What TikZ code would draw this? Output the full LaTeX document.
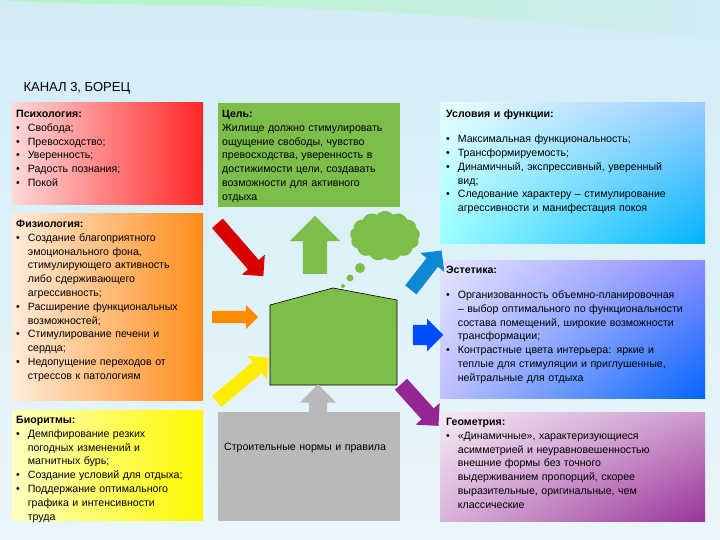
\documentclass[tikz,border=0pt]{standalone}
\usepackage{fontspec}
\setmainfont{Liberation Sans}
\usetikzlibrary{shapes.arrows,shapes.symbols,shapes.geometric,shadings}
\newcommand{\itm}{\par\noindent\hangindent=1.1em\hangafter=1\makebox[1.1em][l]{\textbullet}}
\definecolor{bgA}{HTML}{EAF6FB}
\definecolor{bgB}{HTML}{D2ECF6}
\definecolor{hgreen}{HTML}{7DBE4B}
\begin{document}
\begin{tikzpicture}[x=1pt,y=-1pt,
  txt/.style={anchor=north west,inner sep=0pt,align=left,font=\fontsize{10.6}{13.8}\selectfont},
  arr/.style={single arrow,draw=none,single arrow head extend=8pt,inner sep=7pt,minimum height=#1}]
\useasboundingbox (0,0) rectangle (720,540);
\shade[top color=bgB,bottom color=bgA] (0,0) rectangle (720,540);
\shade[left color=green!40!white,right color=bgB,opacity=0.6] (0,0) .. controls (150,10) and (300,-5) .. (720,40) -- (720,0) -- cycle;
\node[anchor=west,font=\fontsize{13}{15}\selectfont] (title) at (20,88) {КАНАЛ 3, БОРЕЦ};
% boxes
\shade[left color=red!15,right color=red!85] (12,103) rectangle (203,205);
\shade[left color=orange!15,right color=orange!90] (12,214) rectangle (203,400);
\shade[left color=yellow!25,right color=yellow!95!orange] (12,410) rectangle (203,520);
\fill[hgreen] (218,103) rectangle (400,207);
\fill[gray!55] (218,412) rectangle (400,521);
\shade[upper left=cyan!8,upper right=cyan!50!blue!40,lower left=cyan!40,lower right=cyan!70!blue] (440,103) rectangle (705,243);
\shade[upper left=blue!10,upper right=blue!45,lower left=blue!25,lower right=blue!60!cyan] (440,260) rectangle (705,398);
\shade[upper left=violet!8,upper right=violet!40,lower left=violet!30,lower right=violet!80] (440,412) rectangle (705,521);
% texts
\node[txt,text width=180pt] (psy) at (16,110) {\textbf{Психология:}\itm Свобода;\itm Превосходство;\itm Уверенность;\itm Радость познания;\itm Покой\par};
\node[txt,text width=172pt] (goal) at (222,110) {\textbf{Цель:}\par Жилище должно стимулировать ощущение свободы, чувство превосходства, уверенность в достижимости цели, создавать возможности для активного отдыха\par};
\node[txt,text width=240pt] (cond) at (446,110) {\textbf{Условия и функции:}\par\vspace{11pt}\itm Максимальная функциональность;\itm Трансформируемость;\itm Динамичный, экспрессивный, уверенный вид;\itm Следование характеру – стимулирование агрессивности и манифестация покоя\par};
\node[txt,text width=172pt] (phys) at (16,220) {\textbf{Физиология:}\itm Создание благоприятного эмоционального фона, стимулирующего активность либо сдерживающего агрессивность;\itm Расширение функциональных возможностей;\itm Стимулирование печени и сердца;\itm Недопущение переходов от стрессов к патологиям\par};
\node[txt,text width=240pt] (aest) at (446,266) {\textbf{Эстетика:}\par\vspace{11pt}\itm Организованность объемно-планировочная – выбор оптимального по функциональности состава помещений, широкие возможности трансформации;\itm Контрастные цвета интерьера: яркие и теплые для стимуляции и приглушенные, нейтральные для отдыха\par};
\node[txt,text width=168pt] (bio) at (16,416) {\textbf{Биоритмы:}\itm Демпфирование резких погодных изменений и магнитных бурь;\itm Создание условий для отдыха;\itm Поддержание оптимального графика и интенсивности труда\par};
\node[txt,text width=178pt] (norm) at (224,443) {Строительные нормы и правила};
\node[txt,text width=236pt] (geom) at (446,418) {\textbf{Геометрия:}\itm «Динамичные», характеризующиеся асимметрией и неуравновешенностью внешние формы без точного выдерживанием пропорций, скорее выразительные, оригинальные, чем классические\par};
% house
\draw[fill=hgreen,line width=0.6pt] (270,385) -- (270,305) -- (333,288) -- (397,300) -- (397,385) -- cycle;
% cloud
\node[cloud,cloud puffs=13,cloud puff arc=100,aspect=1.4,fill=hgreen,minimum width=70pt,minimum height=50pt] (cloud) at (385,236) {};
\fill[hgreen] (360,268) circle (5pt) (350,278) circle (3.5pt) (343,286) circle (2pt);
% arrows
\node[arr=70pt,fill=red!85!black,rotate=-49] (ar) at (238,247) {};
\node[arr=46pt,fill=orange!90!yellow,inner sep=6pt,single arrow head extend=6pt] (ao) at (232,317) {};
\node[arr=68pt,fill=yellow!95!orange,rotate=40] (ay) at (240,382) {};
\node[arr=58pt,fill=hgreen,rotate=90,inner sep=12pt,single arrow head extend=13pt] (ag) at (315,251) {};
\node[arr=44pt,fill=gray!55,rotate=90,inner sep=9pt,single arrow head extend=9pt] (agr) at (318,411) {};
\node[arr=50pt,fill=cyan!70!blue,rotate=52] (ac) at (424,273) {};
\node[arr=30pt,fill=blue!70!cyan,inner sep=10pt,single arrow head extend=6pt] (ab) at (423,335) {};
\node[arr=56pt,fill=violet!85,rotate=-48,inner sep=8pt] (ap) at (417,402) {};
\end{tikzpicture}
\end{document}
